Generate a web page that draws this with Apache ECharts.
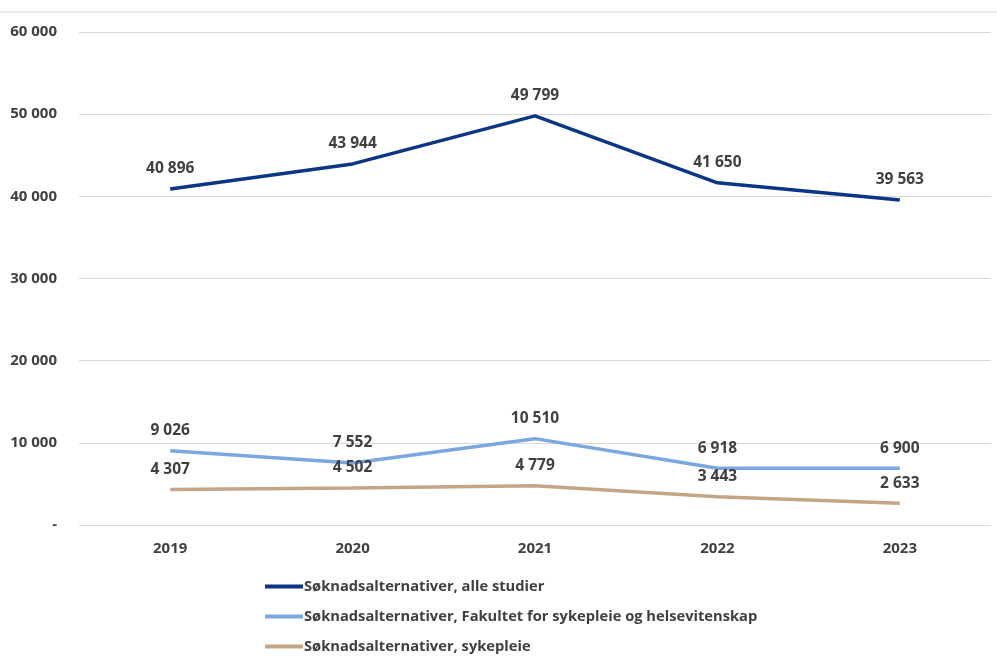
<!DOCTYPE html>
<html><head><meta charset="utf-8">
<script src="https://cdn.jsdelivr.net/npm/echarts@6/dist/echarts.min.js"></script>
<style>html,body{margin:0;padding:0;background:#fff}#c{width:997px;height:668px}</style>
</head><body><div id="c"></div>
<script>
const categories = ['2019','2020','2021','2022','2023'];
const allStudies = [40896, 43944, 49799, 41650, 39563];
const faculty = [9026, 7552, 10510, 6918, 6900];
const nursing = [4307, 4502, 4779, 3443, 2633];
const seriesNames = [
  'Søknadsalternativer, alle studier',
  'Søknadsalternativer, Fakultet for sykepleie og helsevitenskap',
  'Søknadsalternativer, sykepleie'
];
const colors = ['#0b3585', '#7aa6e2', '#c4a586'];
const FONT = 'Open Sans';
const TXT = '#404040';
function fmt(v){ if(v===0) return '-'; return String(Math.round(v)).replace(/\B(?=(\d{3})+(?!\d))/g,' '); }
const chart = echarts.init(document.getElementById('c'));
function mk(name, data, color){
  return {name, type:'line', data, symbol:'circle', symbolSize:2, showSymbol:true, smooth:false,
    lineStyle:{color, width:3.5}, itemStyle:{color:'rgba(0,0,0,0)', borderWidth:0},
    labelLayout:{hideOverlap:false},
    label:{show:true, position:'top', distance:11, formatter:p=>fmt(p.value),
      fontFamily:FONT, fontWeight:'bold', fontSize:15.5, color:TXT}};
}
chart.setOption({
  animation:false,
  textStyle:{fontFamily:FONT},
  graphic:[{type:'line', shape:{x1:0,y1:12,x2:997,y2:12}, style:{stroke:'#d9d9d9', lineWidth:1}}],
  grid:{left:79, right:6, top:32, height:493, containLabel:false},
  legend:{orient:'vertical', left:260, top:574, itemGap:15, icon:'rect', itemWidth:38, itemHeight:4,
    textStyle:{fontFamily:FONT, fontWeight:'bold', fontSize:14.7, color:TXT, padding:[0,0,0,-4]},
    data:seriesNames.map((n,i)=>({name:n, itemStyle:{color:colors[i], opacity:1}}))},
  xAxis:{type:'category', data:categories, boundaryGap:true,
    axisLine:{show:false}, axisTick:{show:false},
    axisLabel:{margin:16, fontFamily:FONT, fontWeight:'bold', fontSize:15, color:TXT}},
  yAxis:{type:'value', min:0, max:60000, interval:10000,
    axisLine:{show:false}, axisTick:{show:false},
    splitLine:{lineStyle:{color:'#d9d9d9', width:1}},
    axisLabel:{margin:22, formatter:fmt, fontFamily:FONT, fontWeight:'bold', fontSize:15, color:TXT}},
  series:[mk(seriesNames[0], allStudies, colors[0]), mk(seriesNames[1], faculty, colors[1]), mk(seriesNames[2], nursing, colors[2])]
});
</script></body></html>
